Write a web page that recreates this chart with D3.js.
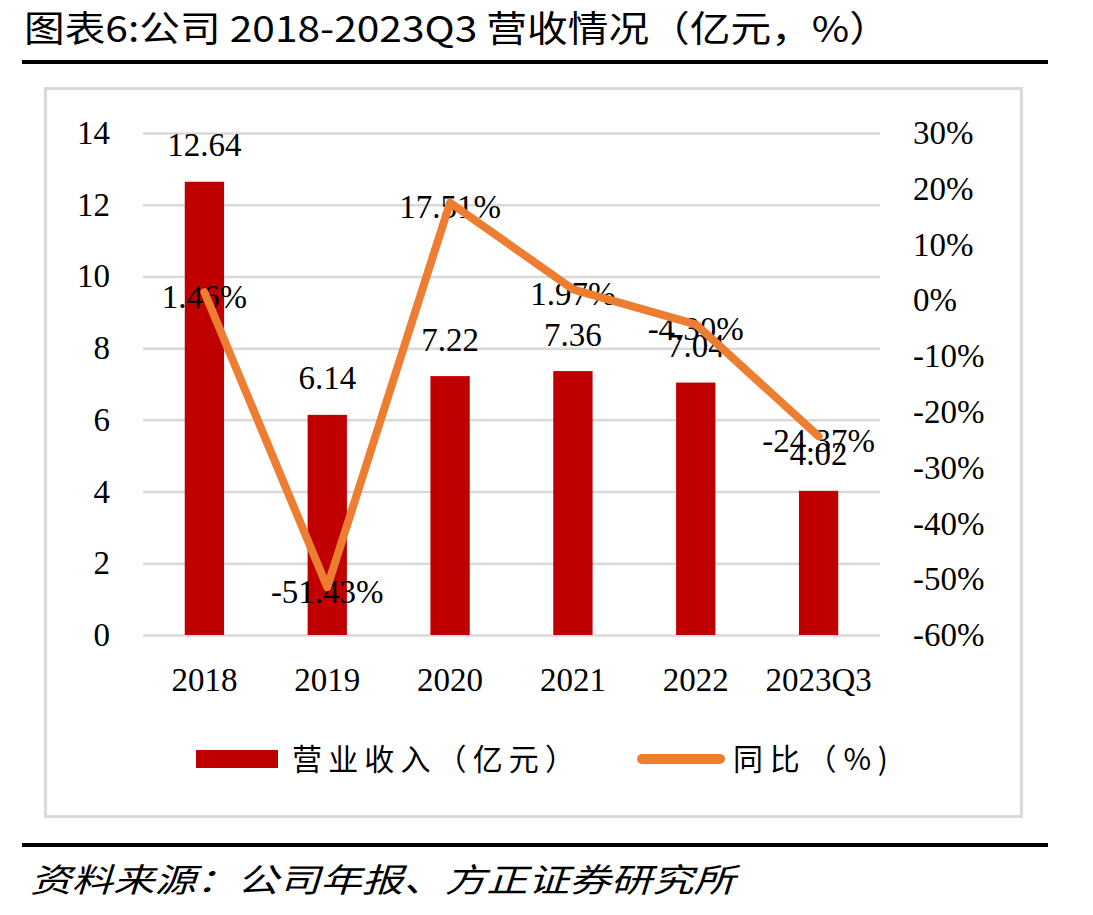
<!DOCTYPE html>
<html>
<head>
<meta charset="utf-8">
<script src="https://cdn.jsdelivr.net/npm/d3@7"></script>
<style>
    body { margin: 0; background: #fff; }
</style>
</head>
<body>
<svg id="chart" width="1093" height="915"></svg>
<script>
// data
const categories = ["2018", "2019", "2020", "2021", "2022", "2023Q3"];
const revenue = [12.64, 6.14, 7.22, 7.36, 7.04, 4.02];   // 亿元
const growth = [1.46, -51.43, 17.51, 1.97, -4.30, -24.37]; // %
const leftTicks = [0, 2, 4, 6, 8, 10, 12, 14];
const rightTicks = [-60, -50, -40, -30, -20, -10, 0, 10, 20, 30];
const barLabels = ["12.64", "6.14", "7.22", "7.36", "7.04", "4.02"];
const lineLabels = ["1.46%", "-51.43%", "17.51%", "1.97%", "-4.30%", "-24.37%"];

const serif = "'Liberation Serif', 'Times New Roman', serif";
const cjk = "'Noto Sans CJK SC', sans-serif";
const barColor = "#c00000";
const lineColor = "#ed7d31";
const gridColor = "#d9d9d9";

let svg = d3.select("#chart");

// title + rules
svg.append("text")
    .attr("x", 24).attr("y", 42)
    .attr("font-family", cjk)
    .attr("font-size", 36)
    .attr("textLength", 866)
    .attr("lengthAdjust", "spacingAndGlyphs")
    .text("图表6:公司 2018-2023Q3 营收情况（亿元，%）");

svg.append("rect").attr("x", 22).attr("y", 60).attr("width", 1026).attr("height", 4).attr("fill", "#000");
svg.append("rect").attr("x", 22).attr("y", 843).attr("width", 1026).attr("height", 4).attr("fill", "#000");

svg.append("text")
    .attr("x", 30).attr("y", 892)
    .attr("font-family", cjk)
    .attr("font-style", "italic")
    .attr("font-size", 33)
    .attr("textLength", 705)
    .attr("lengthAdjust", "spacingAndGlyphs")
    .text("资料来源：公司年报、方正证券研究所");

// chart frame
svg.append("rect")
    .attr("x", 45.5).attr("y", 88.5)
    .attr("width", 976).attr("height", 728)
    .attr("fill", "none")
    .attr("stroke", gridColor)
    .attr("stroke-width", 3);

// scales
let x = d3.scaleBand()
    .domain(categories)
    .range([143, 880])
    .paddingInner(0.68)
    .paddingOuter(0.34);

let yL = d3.scaleLinear().domain([0, 14]).range([635, 133]);
let yR = d3.scaleLinear().domain([-60, 30]).range([635, 133]);

// left axis with gridlines
let gLeft = svg.append("g")
    .attr("transform", "translate(143,0)")
    .call(d3.axisLeft(yL).tickValues(leftTicks).tickSize(-737).tickPadding(33));
gLeft.select(".domain").remove();
gLeft.selectAll(".tick line").attr("stroke", gridColor).attr("stroke-width", 2.5);
gLeft.attr("font-family", serif).attr("font-size", 33);
gLeft.selectAll(".tick text").attr("fill", "#000");

// right axis
let gRight = svg.append("g")
    .attr("transform", "translate(880,0)")
    .call(d3.axisRight(yR).tickValues(rightTicks).tickSize(0).tickPadding(33)
        .tickFormat(function (d) { return d + "%"; }));
gRight.select(".domain").remove();
gRight.attr("font-family", serif).attr("font-size", 33);
gRight.selectAll(".tick text").attr("fill", "#000");

// category axis
let gBottom = svg.append("g")
    .attr("transform", "translate(0,635)")
    .call(d3.axisBottom(x).tickSize(0).tickPadding(33));
gBottom.select(".domain").remove();
gBottom.attr("font-family", serif).attr("font-size", 33);
gBottom.selectAll(".tick text").attr("fill", "#000");

// bars
svg.append("g")
    .selectAll("rect")
    .data(revenue)
    .enter().append("rect")
    .attr("x", function (d, i) { return x(categories[i]); })
    .attr("y", function (d) { return yL(d); })
    .attr("width", x.bandwidth())
    .attr("height", function (d) { return yL(0) - yL(d); })
    .attr("fill", barColor);

// bar labels
svg.append("g")
    .selectAll("text")
    .data(revenue)
    .enter().append("text")
    .attr("x", function (d, i) { return x(categories[i]) + x.bandwidth() / 2; })
    .attr("y", function (d) { return yL(d) - 37; })
    .attr("dy", "0.35em")
    .attr("text-anchor", "middle")
    .attr("font-family", serif)
    .attr("font-size", 33)
    .text(function (d, i) { return barLabels[i]; });

// line label text sits under the line
svg.append("g")
    .selectAll("text")
    .data(growth)
    .enter().append("text")
    .attr("x", function (d, i) { return x(categories[i]) + x.bandwidth() / 2; })
    .attr("y", function (d) { return yR(d) + 4; })
    .attr("dy", "0.35em")
    .attr("text-anchor", "middle")
    .attr("font-family", serif)
    .attr("font-size", 33)
    .text(function (d, i) { return lineLabels[i]; });

// growth line
let line = d3.line()
    .x(function (d, i) { return x(categories[i]) + x.bandwidth() / 2; })
    .y(function (d) { return yR(d); });

svg.append("path")
    .datum(growth)
    .attr("d", line)
    .attr("fill", "none")
    .attr("stroke", lineColor)
    .attr("stroke-width", 8)
    .attr("stroke-linejoin", "round")
    .attr("stroke-linecap", "round");

// legend
let legend = svg.append("g");
legend.append("rect")
    .attr("x", 196).attr("y", 750)
    .attr("width", 82).attr("height", 18)
    .attr("fill", barColor);
legend.append("text")
    .attr("x", 292).attr("y", 759)
    .attr("dy", "0.35em")
    .attr("font-family", cjk)
    .attr("font-size", 30)
    .attr("textLength", 283)
    .attr("lengthAdjust", "spacing")
    .text("营业收入（亿元）");
legend.append("line")
    .attr("x1", 642).attr("x2", 720)
    .attr("y1", 759).attr("y2", 759)
    .attr("stroke", lineColor)
    .attr("stroke-width", 10)
    .attr("stroke-linecap", "round");
legend.append("text")
    .attr("x", 733).attr("y", 759)
    .attr("dy", "0.35em")
    .attr("font-family", cjk)
    .attr("font-size", 30)
    .attr("textLength", 155)
    .attr("lengthAdjust", "spacing")
    .text("同比（%)");
</script>
</body>
</html>
